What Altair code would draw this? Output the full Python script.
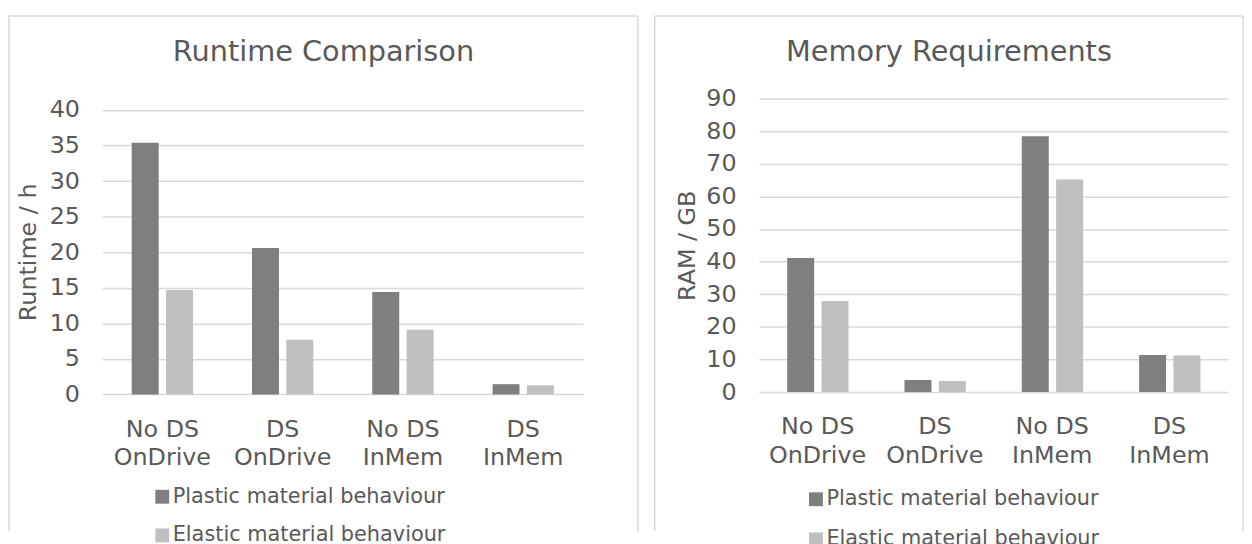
import altair as alt
import pandas as pd

categories = ["No DS\nOnDrive", "DS\nOnDrive", "No DS\nInMem", "DS\nInMem"]
series = ["Plastic material behaviour", "Elastic material behaviour"]
colors = ["#7f7f7f", "#bfbfbf"]

runtime_plastic = [35.4, 20.6, 14.4, 1.45]
runtime_elastic = [14.7, 7.7, 9.1, 1.3]
runtime_ticks = [0, 5, 10, 15, 20, 25, 30, 35, 40]

ram_plastic = [41.1, 3.7, 78.4, 11.4]
ram_elastic = [27.9, 3.4, 65.2, 11.2]
ram_ticks = [0, 10, 20, 30, 40, 50, 60, 70, 80, 90]

TEXT = "#595959"
GRID = "#d9d9d9"
FONT = "DejaVu Sans"


def border_line(x, x2, y, y2):
    return alt.Chart(alt.Data(values=[{}])).mark_rule(
        color=GRID, strokeWidth=1.5
    ).encode(x=alt.value(x), x2=alt.value(x2), y=alt.value(y), y2=alt.value(y2))


def panel(plastic, elastic, ticks, ymax, title, ytitle, w, h, pad_in, off_in,
          bx1, bx2, by1, by2, ytitle_x, ytitle_y, leg_x, leg_y, row_pad,
          title_offset):
    df = pd.DataFrame({
        "category": categories * 2,
        "series": [series[0]] * len(categories) + [series[1]] * len(categories),
        "value": plastic + elastic,
    })
    bars = alt.Chart(df).mark_bar().encode(
        x=alt.X(
            "category:N", sort=categories, title=None,
            scale=alt.Scale(paddingInner=pad_in, paddingOuter=pad_in / 2),
            axis=alt.Axis(
                labelExpr="split(datum.label, '\\n')", labelAngle=0,
                labelPadding=23, labelLineHeight=29, labelFontSize=24,
                labelColor=TEXT, labelFont=FONT, domain=False, ticks=False,
                tickSize=0, grid=False, labelBaseline="top",
            ),
        ),
        xOffset=alt.XOffset(
            "series:N", sort=series,
            scale=alt.Scale(paddingInner=off_in, paddingOuter=0),
        ),
        y=alt.Y(
            "value:Q",
            scale=alt.Scale(domain=[0, ymax], nice=False, zero=True),
            axis=alt.Axis(
                values=ticks, title=ytitle, titleFontSize=24, titleFont=FONT,
                titleColor=TEXT, titleFontWeight="normal", titleAngle=-90,
                titleX=ytitle_x, titleY=ytitle_y, titleBaseline="alphabetic",
                titleAlign="center",
                labelFontSize=24, labelFont=FONT, labelColor=TEXT,
                labelPadding=23, ticks=False, tickSize=0, domain=False,
                grid=True, gridColor=GRID, gridWidth=1.5,
            ),
        ),
        color=alt.Color(
            "series:N", sort=series,
            scale=alt.Scale(domain=series, range=colors),
            legend=alt.Legend(
                title=None, orient="none", legendX=leg_x, legendY=leg_y,
                direction="vertical", symbolType="square", symbolSize=196,
                symbolStrokeWidth=0, labelFontSize=21, labelFont=FONT,
                labelColor=TEXT, labelOffset=0, rowPadding=row_pad, padding=0,
                labelLimit=0,
            ),
        ),
    )
    frame = [
        border_line(bx1, bx1, by1, by2),
        border_line(bx1, bx2, by1, by1),
        border_line(bx2, bx2, by1, by2),
    ]
    return alt.layer(*frame, bars).properties(
        width=w, height=h,
        title=alt.TitleParams(
            text=title, frame="bounds", anchor="middle", offset=title_offset,
            fontSize=29, font=FONT, color=TEXT, fontWeight="normal",
            baseline="alphabetic",
        ),
    )


left = panel(runtime_plastic, runtime_elastic, runtime_ticks, 41.62,
             "Runtime Comparison", "Runtime / h", 485, 298.4, 0.49, 0.215,
             -94, 540, -83.1, 436, -67, 154.6, 50, 391, 17, -75)
right = panel(ram_plastic, ram_elastic, ram_ticks, 90,
              "Memory Requirements", "RAM / GB", 473, 296, 0.482, 0.21,
              -105, 488, -83.1, 436, -65.4, 148, 47, 393.5, 18.5, -75)

chart = alt.hconcat(left, right, spacing=15).resolve_legend(
    color="independent"
).resolve_scale(color="independent").properties(
    padding={"left": 0, "top": 5, "right": 0, "bottom": 0}
).configure_view(stroke=None)

chart.save("out.html", embed_options={"renderer": "svg", "actions": False})
